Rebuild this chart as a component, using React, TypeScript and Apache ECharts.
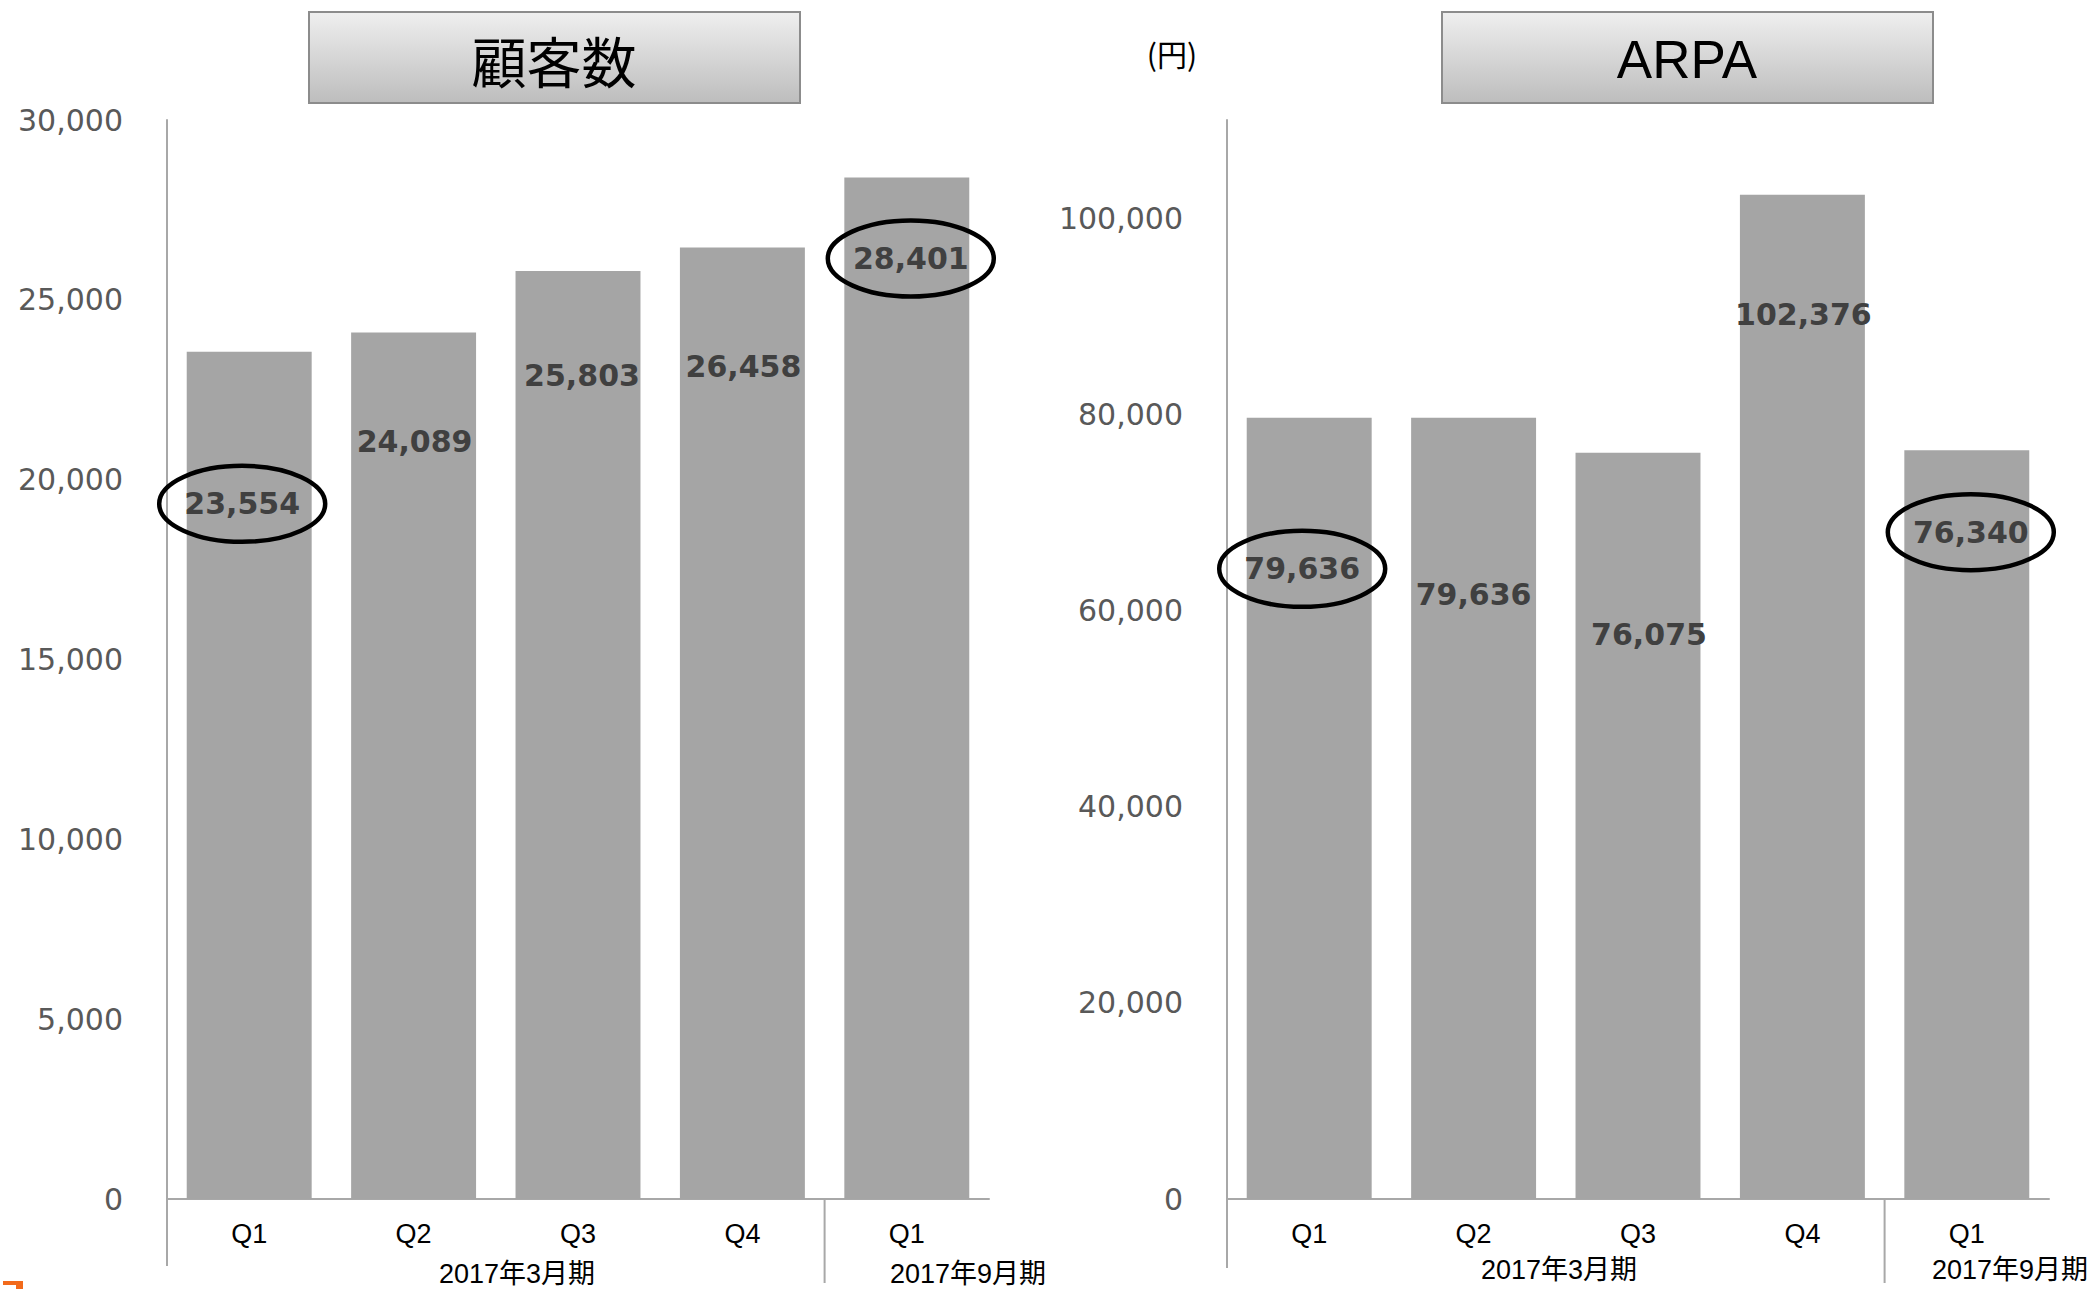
import React, { useEffect, useRef } from "react";
import * as echarts from "echarts";

// ---- data ----
const quarterLabels = ["Q1", "Q2", "Q3", "Q4", "Q1"];
const customerCounts = [23554, 24089, 25803, 26458, 28401];
const arpaValues = [79636, 79636, 76075, 102376, 76340];
const customerAxis = { min: 0, max: 30000, interval: 5000 };
const arpaAxis = { min: 0, max: 110000, interval: 20000 };
const periodLabels = ["2017年3月期", "2017年9月期"];
const leftTitle = "顧客数";
const rightTitle = "ARPA";
const unitLabel = "(円)";
const circledLeft = [0, 4];
const circledRight = [0, 4];

// ---- layout (pixels) ----
const GRID_TOP = 120;
const GRID_H = 1079;
const GRID_W = 822;
const LEFT_X = 167;
const RIGHT_X = 1227;
// label offsets [dx, dy from bar top]
const leftLabelPos = [
  [-7, 152],
  [1, 109],
  [4, 105],
  [1, 119],
  [4, 81],
];
const rightLabelPos = [
  [-7, 151],
  [0, 177],
  [11, 182],
  [1, 120],
  [4, 82],
];

const fmt = (v: number) => v.toLocaleString("en-US");
const AXIS_COLOR = "#a8a8a8";
const BAR_COLOR = "#a5a5a5";

function seriesData(values: number[], pos: number[][]) {
  return values.map((v, i) => ({
    value: v,
    label: {
      position: ["50%", pos[i][1]],
      offset: [pos[i][0], 0],
    },
  }));
}

export default function App() {
  const ref = useRef<HTMLDivElement>(null);
  useEffect(() => {
    document.body.style.margin = "0";
    const chart = echarts.init(ref.current!, null, { renderer: "svg" });

    const labelStyle = {
      show: true,
      align: "center",
      verticalAlign: "middle",
      fontFamily: "DejaVu Sans",
      fontWeight: "bold",
      fontSize: 30,
      color: "#404040",
      formatter: (p: any) => fmt(p.value),
    };

    const xAxisBase = (gridIndex: number) => ({
      type: "category",
      gridIndex,
      data: quarterLabels,
      axisTick: { show: false },
      axisLine: { show: true, lineStyle: { color: AXIS_COLOR, width: 2 } },
      axisLabel: {
        margin: 21,
        fontFamily: "Liberation Sans",
        fontSize: 27,
        color: "#000000",
      },
    });

    const yAxisBase = (gridIndex: number, ax: any) => ({
      type: "value",
      gridIndex,
      min: ax.min,
      max: ax.max,
      interval: ax.interval,
      splitLine: { show: false },
      axisTick: { show: false },
      axisLine: { show: true, lineStyle: { color: AXIS_COLOR, width: 2 } },
      axisLabel: {
        margin: 44,
        fontFamily: "DejaVu Sans",
        fontSize: 30,
        color: "#595959",
        showMaxLabel: ax.max % ax.interval === 0,
        formatter: (v: number) => (v % ax.interval !== 0 ? "" : fmt(v)),
      },
    });

    const titleBox = (x: number, text: string, font: string, size: number) => [
      {
        type: "rect",
        shape: { x, y: 12, width: 491, height: 91 },
        style: {
          fill: new echarts.graphic.LinearGradient(0, 0, 0, 1, [
            { offset: 0, color: "#efefef" },
            { offset: 1, color: "#bdbdbd" },
          ]),
          stroke: "#8c8c8c",
          lineWidth: 2,
        },
      },
      {
        type: "text",
        x: x + 245,
        y: 59,
        style: {
          text,
          fontFamily: font,
          fontSize: size,
          fill: "#000000",
          align: "center",
          verticalAlign: "middle",
        },
      },
    ];

    const vline = (x: number, y1: number, y2: number) => ({
      type: "line",
      shape: { x1: x, y1, x2: x, y2 },
      style: { stroke: AXIS_COLOR, lineWidth: 2 },
    });

    const groupText = (x: number, y: number, text: string) => ({
      type: "text",
      x,
      y,
      style: {
        text,
        fontFamily: "Liberation Sans, Noto Sans CJK JP",
        fontSize: 27,
        fill: "#000000",
        align: "center",
        verticalAlign: "middle",
      },
    });

    const base = GRID_TOP + GRID_H;
    const catW = GRID_W / quarterLabels.length;

    const staticGraphics: any[] = [
      ...titleBox(309, leftTitle, "Noto Sans CJK JP", 55),
      ...titleBox(1442, rightTitle, "Liberation Sans", 53),
      {
        type: "text",
        x: 1172,
        y: 53,
        style: {
          text: unitLabel,
          fontFamily: "Noto Sans CJK JP",
          fontSize: 30,
          fill: "#000000",
          align: "center",
          verticalAlign: "middle",
        },
      },
      vline(LEFT_X, base, 1266),
      vline(LEFT_X + catW * 4, base, 1283),
      vline(RIGHT_X, base, 1268),
      vline(RIGHT_X + catW * 4, base, 1283),
      groupText(517, 1274, periodLabels[0]),
      groupText(968, 1274, periodLabels[1]),
      groupText(1559, 1270, periodLabels[0]),
      groupText(2010, 1270, periodLabels[1]),
      { type: "rect", shape: { x: 3, y: 1281, width: 20, height: 4 }, style: { fill: "#f26a1b" } },
      { type: "rect", shape: { x: 16, y: 1281, width: 7, height: 8 }, style: { fill: "#f26a1b" } },
    ];

    chart.setOption({
      animation: false,
      grid: [
        { left: LEFT_X, top: GRID_TOP, width: GRID_W, height: GRID_H },
        { left: RIGHT_X, top: GRID_TOP, width: GRID_W, height: GRID_H },
      ],
      xAxis: [xAxisBase(0), xAxisBase(1)],
      yAxis: [yAxisBase(0, customerAxis), yAxisBase(1, arpaAxis)],
      series: [
        {
          type: "bar",
          xAxisIndex: 0,
          yAxisIndex: 0,
          barCategoryGap: "24%",
          itemStyle: { color: BAR_COLOR },
          label: labelStyle,
          data: seriesData(customerCounts, leftLabelPos),
        },
        {
          type: "bar",
          xAxisIndex: 1,
          yAxisIndex: 1,
          barCategoryGap: "24%",
          itemStyle: { color: BAR_COLOR },
          label: labelStyle,
          data: seriesData(arpaValues, rightLabelPos),
        },
      ],
      graphic: staticGraphics,
    });

    const ellipses: any[] = [];
    const addEllipses = (seriesIndex: number, values: number[], idxs: number[], pos: number[][]) => {
      idxs.forEach((i) => {
        const p = chart.convertToPixel({ seriesIndex }, [i, values[i]]) as number[];
        ellipses.push({
          type: "ellipse",
          shape: { cx: p[0] + pos[i][0], cy: p[1] + pos[i][1], rx: 83, ry: 38 },
          style: { fill: "none", stroke: "#000000", lineWidth: 4.5 },
          z: 100,
        });
      });
    };
    addEllipses(0, customerCounts, circledLeft, leftLabelPos);
    addEllipses(1, arpaValues, circledRight, rightLabelPos);

    chart.setOption({ graphic: [...staticGraphics, ...ellipses] });

    return () => chart.dispose();
  }, []);

  return (
    <div
      ref={ref}
      style={{ position: "fixed", left: 0, top: 0, width: 2096, height: 1289, background: "#ffffff" }}
    />
  );
}
